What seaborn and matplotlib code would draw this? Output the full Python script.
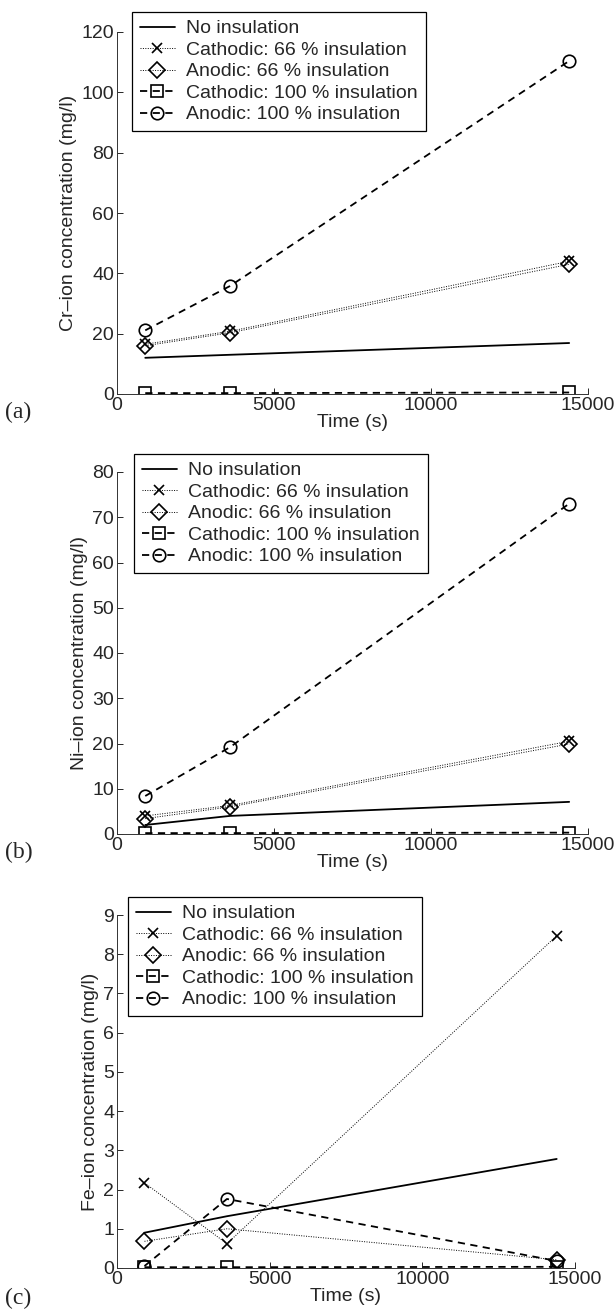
import matplotlib
matplotlib.use("Agg")
import matplotlib.pyplot as plt
import seaborn as sns
import pandas as pd

# ---------------- data ----------------
time_s = [900, 3600, 14400]
series_labels = ["No insulation", "Cathodic: 66 % insulation", "Anodic: 66 % insulation",
                 "Cathodic: 100 % insulation", "Anodic: 100 % insulation"]

cr_none = [12.0, 13.0, 16.9]
cr_cath66 = [16.5, 20.8, 44.0]
cr_anod66 = [16.0, 20.3, 43.0]
cr_cath100 = [0.3, 0.3, 0.5]
cr_anod100 = [21.1, 35.8, 110.4]

ni_none = [2.0, 4.0, 7.1]
ni_cath66 = [4.0, 6.3, 20.5]
ni_anod66 = [3.4, 6.0, 19.9]
ni_cath100 = [0.2, 0.2, 0.3]
ni_anod100 = [8.4, 19.2, 73.0]

fe_none = [0.9, 1.32, 2.78]
fe_cath66 = [2.17, 0.62, 8.47]
fe_anod66 = [0.68, 1.0, 0.21]
fe_cath100 = [0.02, 0.02, 0.03]
fe_anod100 = [0.05, 1.76, 0.18]

x_ticks = [0, 5000, 10000, 15000]
cr_ticks = [0, 20, 40, 60, 80, 100, 120]
ni_ticks = [0, 10, 20, 30, 40, 50, 60, 70, 80]
fe_ticks = [0, 1, 2, 3, 4, 5, 6, 7, 8, 9]

ylabels = ["Cr\u2013ion concentration (mg/l)", "Ni\u2013ion concentration (mg/l)",
           "Fe\u2013ion concentration (mg/l)"]
panel_tags = ["(a)", "(b)", "(c)"]

# ---------------- style ----------------
sns.set_style("ticks")
plt.rcParams["font.family"] = ["Liberation Sans", "DejaVu Sans"]
FS = 14
plt.rcParams["font.size"] = FS

styles = [
    dict(linestyle="-", marker=None, lw=1.3, ms=0),
    dict(linestyle=(0, (1, 1.5)), marker="x", lw=0.7, ms=7),
    dict(linestyle=(0, (1, 1.5)), marker="D", lw=0.7, ms=8),
    dict(linestyle=(0, (4, 3)), marker="s", lw=1.3, ms=8),
    dict(linestyle=(0, (4, 3)), marker="o", lw=1.3, ms=9),
]

fig = plt.figure(figsize=(6.16, 13.12), dpi=100)

W, H = 616.0, 1312.0
# axes rectangles (pixels): left, right, top, bottom
rects = [(117, 588, 32, 394), (117, 588, 472, 834), (117, 575, 915, 1268)]
legend_tl = [(132, 12), (134, 454), (128, 897)]
tag_y = [412, 852, 1298]

panels = [
    ([cr_none, cr_cath66, cr_anod66, cr_cath100, cr_anod100], (0, 120), cr_ticks),
    ([ni_none, ni_cath66, ni_anod66, ni_cath100, ni_anod100], (0, 80), ni_ticks),
    ([fe_none, fe_cath66, fe_anod66, fe_cath100, fe_anod100], (0, 9), fe_ticks),
]

for i, (vals, ylim, yt) in enumerate(panels):
    l, r, t, b = rects[i]
    ax = fig.add_axes([l / W, 1 - b / H, (r - l) / W, (b - t) / H])
    for lab, v, st in zip(series_labels, vals, styles):
        df = pd.DataFrame({"t": time_s, "c": v})
        kw = dict(color="k", linestyle=st["linestyle"], linewidth=st["lw"], label=lab)
        if st["marker"]:
            kw.update(marker=st["marker"], markersize=st["ms"], markerfacecolor="none",
                      markeredgecolor="k", markeredgewidth=1.2)
        sns.lineplot(data=df, x="t", y="c", ax=ax, **kw)
    ax.set_xlim(0, 15000)
    ax.set_ylim(*ylim)
    ax.set_xticks(x_ticks)
    ax.set_xticklabels([str(v) for v in x_ticks])
    ax.set_yticks(yt)
    ax.set_yticklabels([str(v) for v in yt])
    ax.set_xlabel("Time (s)", fontsize=FS, labelpad=0)
    ax.set_ylabel(ylabels[i], fontsize=FS, labelpad=3)
    ax.tick_params(direction="in", length=4, width=0.7, labelsize=FS, pad=2)
    for s in ["top", "right"]:
        ax.spines[s].set_visible(False)
    for s in ["left", "bottom"]:
        ax.spines[s].set_linewidth(0.7)
        ax.spines[s].set_color("#333333")
    lx, ly = legend_tl[i]
    leg = ax.legend(loc="upper left",
                    bbox_to_anchor=((lx - l) / (r - l), (b - ly) / (b - t)),
                    borderaxespad=0, fontsize=FS, frameon=True, fancybox=False,
                    framealpha=1, edgecolor="k", handlelength=1.8,
                    handletextpad=0.6, labelspacing=0.2, borderpad=0.4)
    leg.get_frame().set_linewidth(0.9)
    fig.text(5 / W, 1 - tag_y[i] / H, panel_tags[i], fontsize=17,
             family=["Liberation Serif", "DejaVu Serif"], va="center", ha="left")

fig.savefig("out.png", dpi=100)
